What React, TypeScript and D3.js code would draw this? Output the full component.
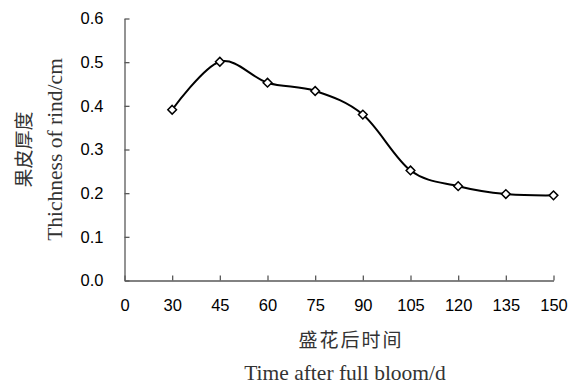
import { useRef, useEffect } from "react";
import * as d3 from "d3";

// x categories (evenly spaced, Excel-style category axis)
const xLabels = ["0", "30", "45", "60", "75", "90", "105", "120", "135", "150"];
const days = ["30", "45", "60", "75", "90", "105", "120", "135", "150"];
const thickness = [0.391, 0.501, 0.453, 0.434, 0.38, 0.252, 0.216, 0.198, 0.195];
const yTicks = [0, 0.1, 0.2, 0.3, 0.4, 0.5, 0.6];

const W = 581;
const H = 384;

export default function App() {
  const svgRef = useRef<SVGSVGElement | null>(null);

  useEffect(() => {
    const svg = d3.select(svgRef.current);
    svg.selectAll("*").remove();

    const left = 124.5;
    const right = 553.5;
    const top = 18.5;
    const bottom = 280.5;

    const x = d3.scalePoint<string>().domain(xLabels).range([left, right]);
    const y = d3.scaleLinear().domain([0, 0.6]).range([bottom, top]);

    const axisColor = "#595959";
    const tickFont = "'Liberation Sans', Arial, sans-serif";

    // --- Y axis ---
    const gy = svg
      .append("g")
      .attr("transform", `translate(${left},0)`)
      .call(
        d3
          .axisLeft(y)
          .tickValues(yTicks)
          .tickFormat(d3.format(".1f"))
          .tickSizeInner(-5)
          .tickSizeOuter(0)
          .tickPadding(21)
      );
    gy.select(".domain").attr("stroke", axisColor).attr("stroke-width", 1.3);
    gy.selectAll(".tick line").attr("stroke", axisColor).attr("stroke-width", 1.3);
    gy.selectAll(".tick text")
      .attr("fill", "#000")
      .attr("font-family", tickFont)
      .attr("font-size", "16.5px");

    // --- X axis ---
    const gx = svg
      .append("g")
      .attr("transform", `translate(0,${bottom})`)
      .call(d3.axisBottom(x).tickSizeInner(-5).tickSizeOuter(0).tickPadding(19));
    gx.select(".domain").attr("stroke", axisColor).attr("stroke-width", 1.3);
    gx.selectAll(".tick line").attr("stroke", axisColor).attr("stroke-width", 1.3);
    gx.selectAll(".tick text")
      .attr("fill", "#000")
      .attr("font-family", tickFont)
      .attr("font-size", "16.5px");

    // --- Smoothed line ---
    const pts: [number, number][] = days.map((d, i) => [x(d) as number, y(thickness[i])]);
    const line = d3.line().curve(d3.curveCardinal.tension(0));
    svg
      .append("path")
      .attr("d", line(pts))
      .attr("fill", "none")
      .attr("stroke", "#000")
      .attr("stroke-width", 2);

    // --- Diamond markers ---
    const diamond = d3.symbol().type(d3.symbolDiamond2).size(48);
    svg
      .append("g")
      .selectAll("path")
      .data(pts)
      .join("path")
      .attr("d", diamond() as string)
      .attr("transform", (p) => `translate(${p[0]},${p[1]})`)
      .attr("fill", "#fff")
      .attr("stroke", "#000")
      .attr("stroke-width", 1.5);

    // --- Axis titles ---
    const cjk = "'Noto Sans CJK SC', sans-serif";
    const serif = "'Liberation Serif', 'Times New Roman', serif";
    const midY = (top + bottom) / 2;

    svg
      .append("text")
      .attr("transform", `translate(31,${midY}) rotate(-90)`)
      .attr("text-anchor", "middle")
      .attr("font-family", cjk)
      .attr("font-size", "19px")
      .attr("fill", "#333")
      .text("果皮厚度");

    svg
      .append("text")
      .attr("transform", `translate(62,${midY}) rotate(-90)`)
      .attr("text-anchor", "middle")
      .attr("font-family", serif)
      .attr("font-size", "21.5px")
      .attr("fill", "#333")
      .text("Thichness of rind/cm");

    svg
      .append("text")
      .attr("x", 351)
      .attr("y", 347)
      .attr("text-anchor", "middle")
      .attr("font-family", cjk)
      .attr("font-size", "19px")
      .attr("letter-spacing", "2px")
      .attr("fill", "#333")
      .text("盛花后时间");

    svg
      .append("text")
      .attr("x", 345)
      .attr("y", 380)
      .attr("text-anchor", "middle")
      .attr("font-family", serif)
      .attr("font-size", "21.5px")
      .attr("fill", "#333")
      .text("Time after full bloom/d");
  }, []);

  return (
    <svg
      ref={svgRef}
      width={W}
      height={H}
      style={{ position: "absolute", left: 0, top: 0, background: "#fff" }}
    />
  );
}
